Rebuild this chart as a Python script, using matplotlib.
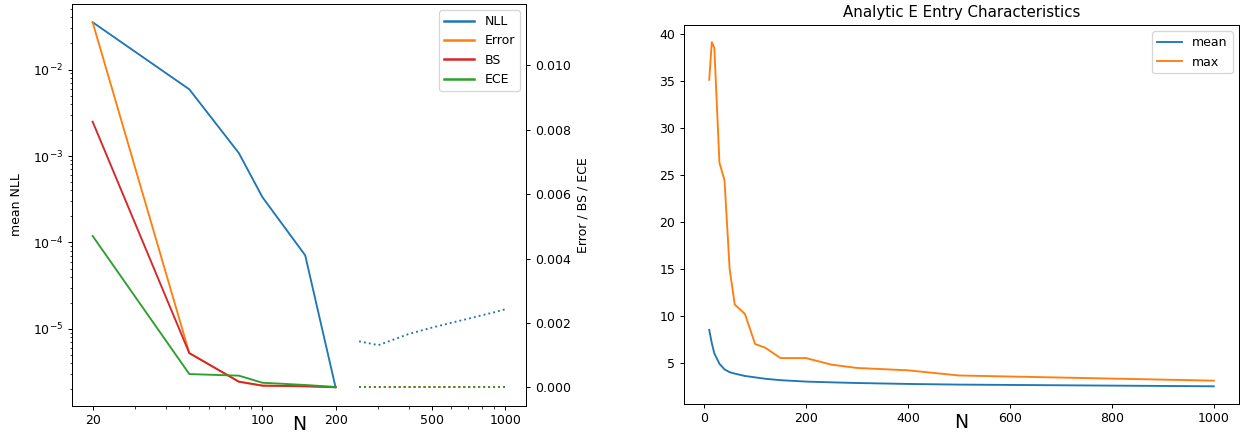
import matplotlib
matplotlib.use('Agg')
import matplotlib.pyplot as plt
from matplotlib.lines import Line2D
from matplotlib.ticker import ScalarFormatter

# left panel: finite-N runs (solid) and large-N runs (dotted)
n_small = [20, 50, 80, 100, 150, 200]
nll_small = [0.0352, 0.0059, 0.00108, 3.34e-4, 7.1e-5, 2.12e-6]
err_small = [0.01134, 0.00106, 0.00017, 0.00005, 0.00003, 0.0]
bs_small = [0.00825, 0.00106, 0.000174, 0.00005, 0.00003, 0.0]
ece_small = [0.0047, 0.00041, 0.00036, 0.00014, 0.00007, 0.00001]

n_big = [250, 300, 400, 500, 600, 700, 800, 900, 1000]
nll_big = [7.2e-6, 6.5e-6, 8.75e-6, 1.04e-5, 1.18e-5, 1.31e-5, 1.44e-5, 1.56e-5, 1.69e-5]
err_big = [0.0] * len(n_big)
bs_big = [0.0] * len(n_big)
ece_big = [0.0] * len(n_big)

x_ticks_left = [20, 100, 200, 500, 1000]

# right panel: analytic E entries
n_e = [10, 15, 20, 30, 40, 50, 60, 80, 100, 120, 150, 200, 250, 300, 400, 500, 1000]
mean_e = [8.5, 7.1, 6.0, 4.9, 4.3, 4.0, 3.85, 3.6, 3.45, 3.3, 3.15, 3.0, 2.92, 2.85, 2.75, 2.68, 2.5]
max_e = [35.1, 39.1, 38.5, 26.3, 24.4, 15.0, 11.2, 10.2, 7.0, 6.6, 5.5, 5.5, 4.8, 4.45, 4.2, 3.65, 3.1]

W, H, DPI = 1246, 439, 90
fig = plt.figure(figsize=(W / DPI, H / DPI), dpi=DPI)

ax1 = fig.add_axes([72 / W, (H - 405.5) / H, (526 - 72) / W, (405.5 - 4) / H])
ax1.set_xscale('log')
ax1.set_yscale('log')
ax1.plot(n_small, nll_small, color='C0')
ax1.plot(n_big, nll_big, color='C0', linestyle=':')
ax1.set_ylabel('mean NLL', labelpad=8)
ax1.set_xlabel('N', fontsize=15, labelpad=-10)
ax1.set_xticks(x_ticks_left)
ax1.xaxis.set_major_formatter(ScalarFormatter())

ax2 = ax1.twinx()
ax2.plot(n_small, err_small, color='C1')
ax2.plot(n_small, bs_small, color='C3')
ax2.plot(n_small, ece_small, color='C2')
ax2.plot(n_big, err_big, color='C1', linestyle=':')
ax2.plot(n_big, bs_big, color='C3', linestyle=':')
ax2.plot(n_big, ece_big, color='C2', linestyle=':')
ax2.set_ylabel('Error / BS / ECE', labelpad=5)

handles = [Line2D([], [], color=c, lw=2) for c in ['C0', 'C1', 'C3', 'C2']]
ax2.legend(handles, ['NLL', 'Error', 'BS', 'ECE'], loc='upper right',
           handlelength=2.4)

ax3 = fig.add_axes([684 / W, (H - 403.5) / H, (1239 - 684) / W, (403.5 - 25) / H])
ax3.plot(n_e, mean_e, label='mean')
ax3.plot(n_e, max_e, label='max')
ax3.set_title('Analytic E Entry Characteristics')
ax3.set_xlabel('N', fontsize=15, labelpad=-10)
ax3.legend(loc='upper right')

fig.savefig('out.png', dpi=DPI)
